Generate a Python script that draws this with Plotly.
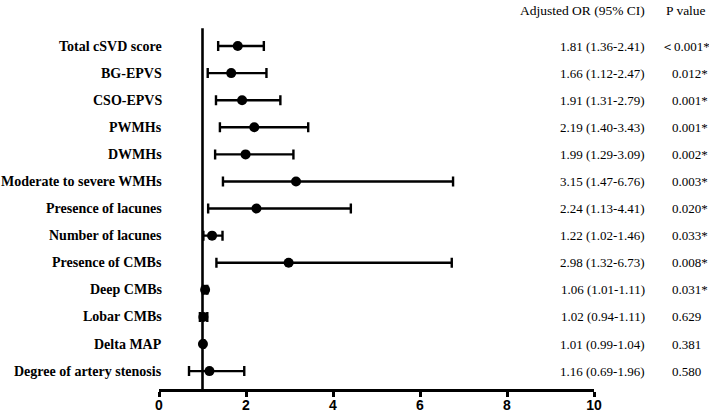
import plotly.graph_objects as go

labels = ["Total cSVD score", "BG-EPVS", "CSO-EPVS", "PWMHs", "DWMHs",
          "Moderate to severe WMHs", "Presence of lacunes", "Number of lacunes",
          "Presence of CMBs", "Deep CMBs", "Lobar CMBs", "Delta MAP",
          "Degree of artery stenosis"]
odds = [1.81, 1.66, 1.91, 2.19, 1.99, 3.15, 2.24, 1.22, 2.98, 1.06, 1.02, 1.01, 1.16]
ci_low = [1.36, 1.12, 1.31, 1.40, 1.29, 1.47, 1.13, 1.02, 1.32, 1.01, 0.94, 0.99, 0.69]
ci_high = [2.41, 2.47, 2.79, 3.43, 3.09, 6.76, 4.41, 1.46, 6.73, 1.11, 1.11, 1.04, 1.96]
p_values = ["＜0.001*", "0.012*", "0.001*", "0.001*", "0.002*", "0.003*", "0.020*",
            "0.033*", "0.008*", "0.031*", "0.629", "0.381", "0.580"]
x_ticks = [0, 2, 4, 6, 8, 10]

rows = list(range(len(labels)))
or_text = [f"{o:.2f} ({l:.2f}-{h:.2f})" for o, l, h in zip(odds, ci_low, ci_high)]

fig = go.Figure()
fig.add_trace(go.Scatter(
    x=odds, y=rows, mode="markers",
    marker=dict(color="black", size=10, symbol="circle"),
    error_x=dict(type="data", symmetric=False,
                 array=[h - o for h, o in zip(ci_high, odds)],
                 arrayminus=[o - l for o, l in zip(odds, ci_low)],
                 color="black", thickness=2.4, width=5),
    showlegend=False, hoverinfo="skip", cliponaxis=False,
))

# reference line at OR = 1
fig.add_shape(type="line", xref="x", yref="y", x0=1, x1=1, y0=-0.66, y1=12.66,
              line=dict(color="black", width=2.6), layer="below")

serif = "Liberation Serif, Times New Roman, serif"
ann = []
for i, lab in enumerate(labels):
    ann.append(dict(x=0.0115, xref="paper", y=i, yref="y", text=f"<b>{lab}</b>",
                    xanchor="right", yanchor="middle", showarrow=False,
                    font=dict(family=serif, size=14, color="black")))
    ann.append(dict(x=1.1218, xref="paper", y=i, yref="y", text=or_text[i],
                    xanchor="right", yanchor="middle", showarrow=False,
                    font=dict(family=serif, size=13, color="black")))
    ann.append(dict(x=1.1494 if i == 0 else 1.1747, xref="paper", y=i, yref="y",
                    text=p_values[i], xanchor="left", yanchor="middle", showarrow=False,
                    font=dict(family=serif, size=13, color="black")))
ann.append(dict(x=1.1218, xref="paper", y=1.027, yref="paper", text="Adjusted OR (95% CI)",
                xanchor="right", yanchor="middle", showarrow=False,
                font=dict(family=serif, size=13.5, color="black")))
ann.append(dict(x=1.1609, xref="paper", y=1.027, yref="paper", text="P value",
                xanchor="left", yanchor="middle", showarrow=False,
                font=dict(family=serif, size=13.5, color="black")))

fig.update_layout(
    width=709, height=412,
    margin=dict(l=159, r=115, t=20, b=23, autoexpand=False),
    paper_bgcolor="white", plot_bgcolor="white",
    annotations=ann,
    xaxis=dict(range=[0, 10], tickvals=x_ticks, ticktext=[f"<b>{t}</b>" for t in x_ticks],
               automargin=False, ticklabelstandoff=-4,
               showgrid=False, zeroline=False, showline=True, linecolor="black",
               linewidth=2.6, ticks="outside", ticklen=5, tickwidth=2.6, tickcolor="black",
               tickfont=dict(family="Liberation Sans, Arial, sans-serif", size=14, color="black")),
    yaxis=dict(range=[12.66, -0.96], showgrid=False, zeroline=False, showline=False,
               automargin=False, showticklabels=False, ticks=""),
)

fig.write_html("out.html", config={"displayModeBar": False},
               post_script="document.body.style.margin='0';document.body.style.overflow='hidden';")
